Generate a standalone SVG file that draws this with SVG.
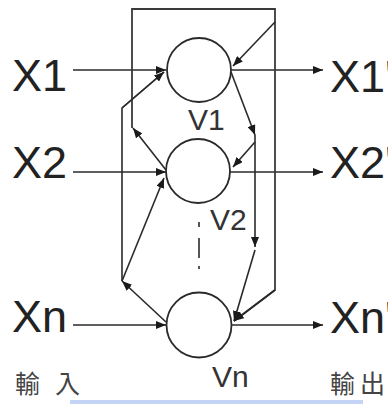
<svg xmlns="http://www.w3.org/2000/svg" width="388" height="404" viewBox="0 0 388 404">
  <style>
    .ln { fill: none; stroke: #2a2a2a; stroke-width: 1.6; stroke-linejoin: miter; }
    .box { fill: none; stroke: #3a3a3a; stroke-width: 1.8; }
    .node { fill: #ffffff; stroke: #2a2a2a; stroke-width: 1.8; }
    .big { font-family: "Liberation Sans", Arial, sans-serif; font-size: 45px; fill: #222; }
    .lab { font-family: "Liberation Sans", Arial, sans-serif; font-size: 30px; fill: #333; }
    .cjk { font-family: "Liberation Sans", "Noto Sans CJK TC", sans-serif; font-size: 25px; fill: #444; }
  </style>
  <defs>
    <marker id="ah" markerUnits="userSpaceOnUse" markerWidth="11" markerHeight="8" refX="10" refY="4" orient="auto">
      <path d="M0,0 L10,4 L0,8 Z" fill="#1a1a1a"/>
    </marker>
  </defs>

  <rect x="70" y="400" width="293" height="4" fill="#c4d4f6"/>

  <g id="connectors">
    <!-- inputs -->
    <line class="ln" x1="73" y1="70" x2="166" y2="70" marker-end="url(#ah)"/>
    <line class="ln" x1="73" y1="172" x2="166" y2="172" marker-end="url(#ah)"/>
    <line class="ln" x1="73" y1="325" x2="166" y2="325" marker-end="url(#ah)"/>
    <!-- outputs -->
    <line class="ln" x1="231" y1="70" x2="323" y2="70" marker-end="url(#ah)"/>
    <line class="ln" x1="230" y1="172" x2="323" y2="172" marker-end="url(#ah)"/>
    <line class="ln" x1="231" y1="325" x2="323" y2="325" marker-end="url(#ah)"/>
    <!-- V2 feedback via outer box -->
    <line class="ln" x1="166" y1="170" x2="133" y2="128" marker-end="url(#ah)"/>
    <polyline class="box" points="132,128 132,9 275,9 275,290 234,321"/>
    <line class="ln" x1="275" y1="290" x2="234" y2="321" marker-end="url(#ah)"/>
    <line class="ln" x1="275" y1="22" x2="233" y2="66" marker-end="url(#ah)"/>
    <!-- V1 feedback -->
    <line class="ln" x1="231" y1="72" x2="255" y2="135" marker-end="url(#ah)"/>
    <line class="ln" x1="255" y1="135" x2="255" y2="247" marker-end="url(#ah)"/>
    <line class="ln" x1="255" y1="142" x2="233" y2="167" marker-end="url(#ah)"/>
    <line class="ln" x1="255" y1="250" x2="234" y2="321" marker-end="url(#ah)"/>
    <!-- Vn feedback -->
    <line class="ln" x1="166" y1="322" x2="122" y2="281" marker-end="url(#ah)"/>
    <line class="ln" x1="122" y1="281" x2="164" y2="178" marker-end="url(#ah)"/>
    <polyline class="ln" points="122,281 122,108 164,72"/>
    <line class="ln" x1="122" y1="108" x2="164" y2="72" marker-end="url(#ah)"/>
    <!-- ellipsis dash -->
    <line class="ln" x1="199" y1="222" x2="199" y2="227"/>
    <line class="ln" x1="199" y1="238" x2="199" y2="258"/>
    <line class="ln" x1="199" y1="266" x2="199" y2="269"/>
  </g>

  <g id="V1">
    <circle class="node" cx="199" cy="70" r="32"/>
    <text class="lab" x="188" y="130">V1</text>
  </g>
  <g id="V2">
    <circle class="node" cx="198" cy="171" r="32"/>
    <text class="lab" x="210" y="230">V2</text>
  </g>
  <g id="Vn">
    <circle class="node" cx="199" cy="325" r="32.5"/>
    <text class="lab" x="212" y="387">Vn</text>
  </g>

  <g id="inputs">
    <text class="big" x="12" y="91">X1</text>
    <text class="big" x="12" y="178">X2</text>
    <text class="big" x="12" y="332">Xn</text>
    <text class="cjk" x="15" y="393" letter-spacing="15">輸入</text>
  </g>
  <g id="outputs">
    <text class="big" x="330" y="92">X1'</text>
    <text class="big" x="330" y="178">X2'</text>
    <text class="big" x="330" y="333">Xn'</text>
    <text class="cjk" x="330" y="393" letter-spacing="5">輸出</text>
  </g>
</svg>
